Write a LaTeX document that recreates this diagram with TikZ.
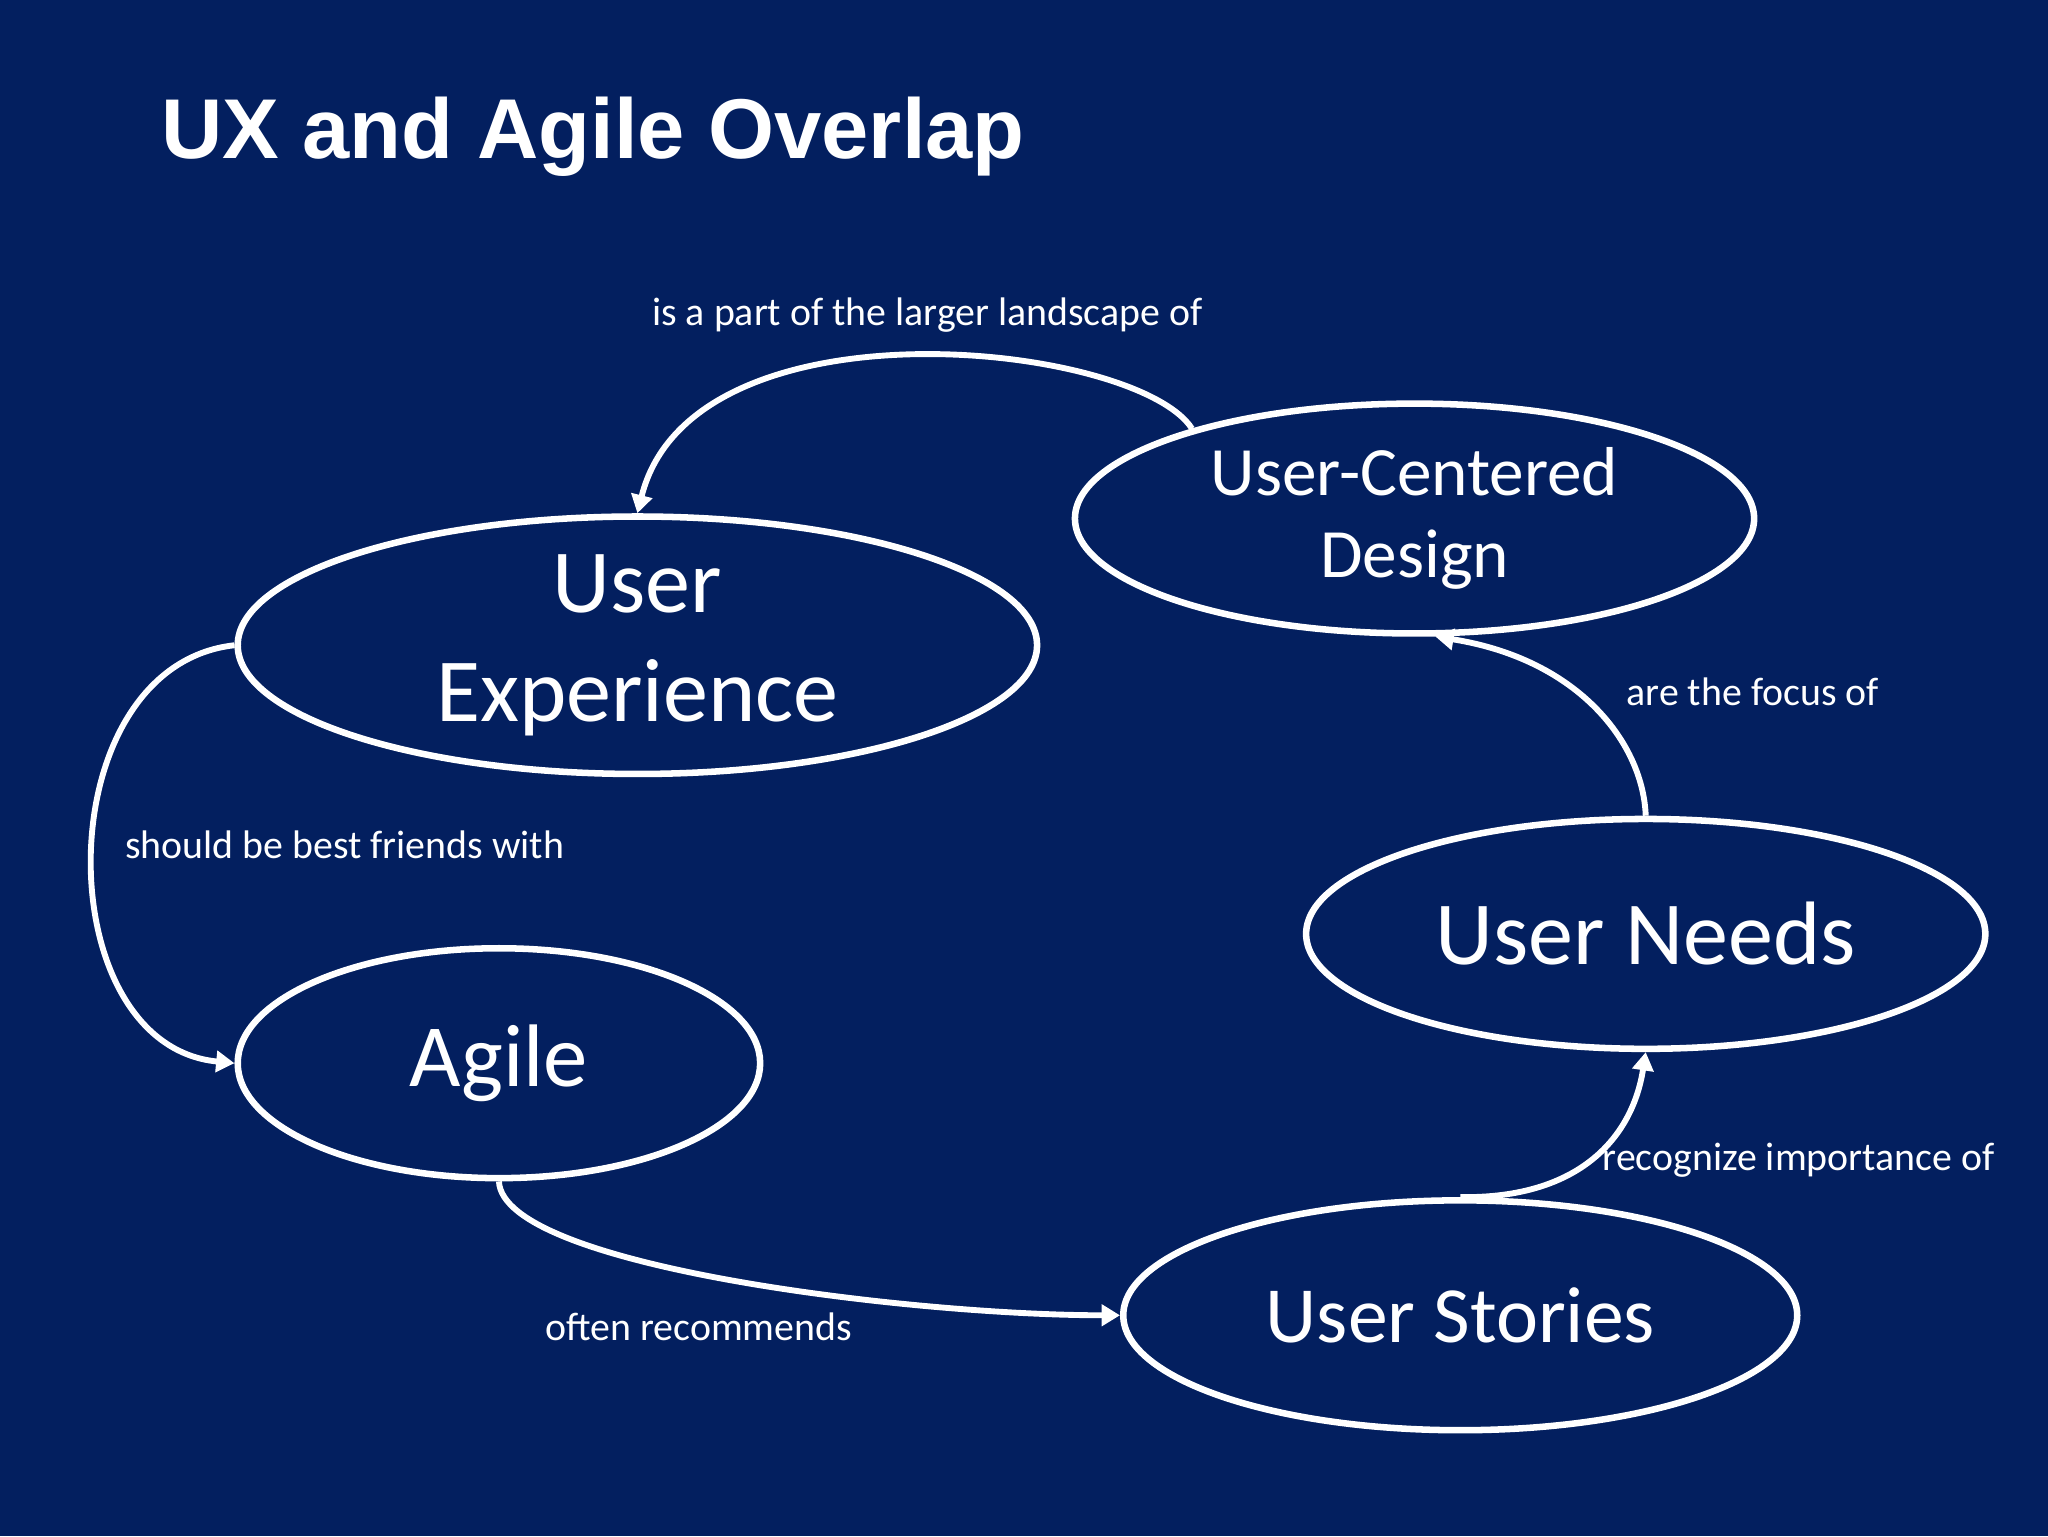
\documentclass[tikz,border=0pt]{standalone}
\usepackage{fontspec}
\setmainfont{Carlito}
\newfontfamily\titlefont{Liberation Sans}
\usetikzlibrary{shapes.geometric,arrows.meta}
\definecolor{bg}{HTML}{031F5F}
\begin{document}
\begin{tikzpicture}[x=1pt,y=-1pt,
  ell/.style={draw=white,line width=5pt,ellipse,inner sep=0pt,text=white,align=center},
  conn/.style={draw=white,line width=4.5pt,-{Triangle[length=14pt,width=16pt]}},
  lab/.style={text=white,font=\fontsize{30.5}{33}\selectfont}]
\fill[bg] (0,0) rectangle (1568,1176);
\useasboundingbox (0,0) rectangle (1568,1176);
\node[anchor=west,text=white,font=\titlefont\bfseries\fontsize{65}{70}\selectfont] (title) at (120,105) {UX and Agile Overlap};
\node[ell,minimum width=612pt,minimum height=176pt,font=\fontsize{69}{84}\selectfont] (ux) at (488,494) {User\\Experience};
\node[ell,minimum width=520pt,minimum height=176pt,font=\fontsize{53}{63}\selectfont] (ucd) at (1083,397) {User-Centered\\Design};
\node[ell,minimum width=400pt,minimum height=176pt,font=\fontsize{68}{74}\selectfont] (agile) at (382,814) {Agile};
\node[ell,minimum width=520pt,minimum height=176pt,font=\fontsize{69}{74}\selectfont] (needs) at (1260,715) {User Needs};
\node[ell,minimum width=516pt,minimum height=176pt,font=\fontsize{61}{66}\selectfont] (stories) at (1118,1007) {User Stories};
\draw[conn] (ucd.158) .. controls (870,262) and (530,225) .. (ux.north);
\draw[conn] (ux.west) .. controls (35,510) and (35,800) .. (agile.west);
\draw[conn] (agile.south) .. controls (385,970) and (700,1007) .. (stories.west);
\draw[conn] (stories.north) .. controls (1210,918) and (1250,870) .. (needs.south);
\draw[conn] (needs.north) .. controls (1258,570) and (1210,505) .. (ucd.-80);
\node[lab] (l1) at (710,241) {is a part of the larger landscape of};
\node[lab] (l2) at (264,647) {should be best friends with};
\node[lab] (l3) at (535,1016) {often recommends};
\node[lab] (l4) at (1377,888) {recognize importance of};
\node[lab] (l5) at (1342,530) {are the focus of};
\end{tikzpicture}
\end{document}
